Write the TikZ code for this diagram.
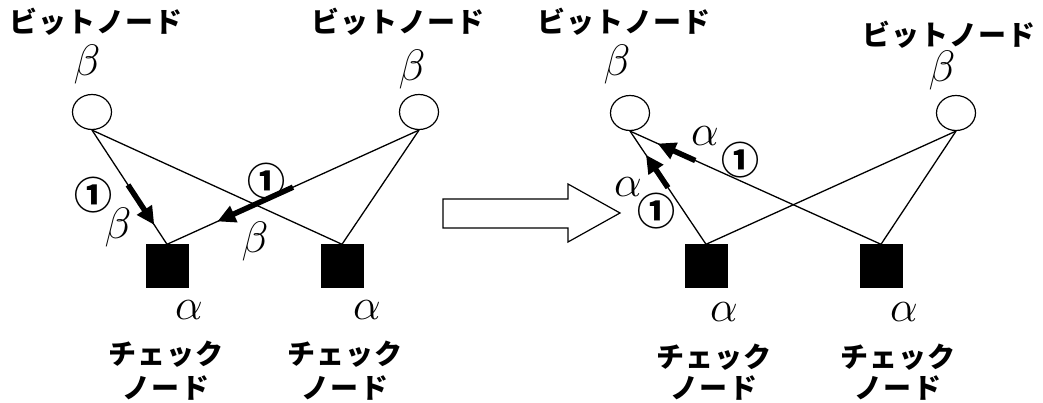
\RequirePackage{fix-cm}
\documentclass[tikz,border=0pt]{standalone}
\usepackage{fontspec}
\usetikzlibrary{arrows.meta,calc,shapes.geometric}
\newfontfamily\cjk{Noto Sans CJK JP Black}[LetterSpace=4]
\newfontfamily\cjknum{Noto Sans CJK JP Black}
\begin{document}
\begin{tikzpicture}[x=1pt,y=-1pt,
  jp/.style={font=\cjk\fontsize{28}{30}\selectfont, inner sep=0pt},
  gr/.style={font=\fontsize{44}{44}\selectfont, inner sep=0pt},
  num/.style={font=\cjknum\fontsize{38}{38}\selectfont, inner sep=0pt},
  bit/.style={ellipse, draw, line width=1.2pt, minimum width=39pt, minimum height=35pt, inner sep=0pt},
  chk/.style={fill=black, minimum size=43pt, inner sep=0pt},
  edge/.style={line width=1.3pt},
  msg/.style={line width=5.5pt, -{Triangle[length=18pt,width=17pt]}},
  bigarrow/.style={draw, line width=1.2pt, fill=white}]
\useasboundingbox (0,0) rectangle (1043,403);

% ---------- left panel ----------
\node[jp] (t1) at (96,22) {ビットノード};
\node[jp] (t2) at (398,22) {ビットノード};
\node[gr] (gb1) at (87,65) {$\beta$};
\node[gr] (gb2) at (412,70) {$\beta$};
\node[bit] (b1) at (92,112) {};
\node[bit] (b2) at (419,112) {};
\node[chk] (c1) at (167,266) {};
\node[chk] (c2) at (342,266) {};
\node[gr] (ga1) at (189,310) {$\alpha$};
\node[gr] (ga2) at (367,310) {$\alpha$};
\node[jp] (ck1) at (166,354) {チェック};
\node[jp] (nd1) at (166,388) {ノード};
\node[jp] (ck2) at (345,354) {チェック};
\node[jp] (nd2) at (345,388) {ノード};

\draw[edge] (b1.south) -- (c1.north);
\draw[edge] (b1.south) -- (c2.north);
\draw[edge] (b2.south) -- (c1.north);
\draw[edge] (b2.south) -- (c2.north);

\draw[msg] ($(b1.south)!0.48!(c1.north)$) -- ($(b1.south)!0.83!(c1.north)$);
\draw[msg] ($(b2.south)!0.50!(c1.north)$) -- ($(b2.south)!0.80!(c1.north)$);

\node[num] (n1) at (93,195) {①};
\node[gr] (lb1) at (118,228) {$\beta$};
\node[num] (n2) at (266,181) {①};
\node[gr] (lb2) at (255,241) {$\beta$};

% ---------- block arrow ----------
\path[bigarrow] (443,199) -- (568,199) -- (568,184) -- (620,213) -- (568,242) -- (568,228) -- (443,228) -- cycle;

% ---------- right panel ----------
\node[jp] (t3) at (624,22) {ビットノード};
\node[jp] (t4) at (949,35) {ビットノード};
\node[gr] (gb3) at (617,65) {$\beta$};
\node[gr] (gb4) at (942,71) {$\beta$};
\node[bit] (b3) at (630,113) {};
\node[bit] (b4) at (956,113) {};
\node[chk] (c3) at (706,266) {};
\node[chk] (c4) at (881,266) {};
\node[gr] (ga3) at (724,312) {$\alpha$};
\node[gr] (ga4) at (904,312) {$\alpha$};
\node[jp] (ck3) at (714,357) {チェック};
\node[jp] (nd3) at (714,388) {ノード};
\node[jp] (ck4) at (898,357) {チェック};
\node[jp] (nd4) at (898,388) {ノード};

\draw[edge] (b3.south) -- (c3.north);
\draw[edge] (b3.south) -- (c4.north);
\draw[edge] (b4.south) -- (c3.north);
\draw[edge] (b4.south) -- (c4.north);

\draw[msg] ($(b3.south)!0.50!(c3.north)$) -- ($(b3.south)!0.21!(c3.north)$);
\draw[msg] ($(b3.south)!0.26!(c4.north)$) -- ($(b3.south)!0.11!(c4.north)$);

\node[gr] (la1) at (705,136) {$\alpha$};
\node[num] (n3) at (740,160) {①};
\node[gr] (la2) at (628,187) {$\alpha$};
\node[num] (n4) at (656,211) {①};
\end{tikzpicture}
\end{document}
